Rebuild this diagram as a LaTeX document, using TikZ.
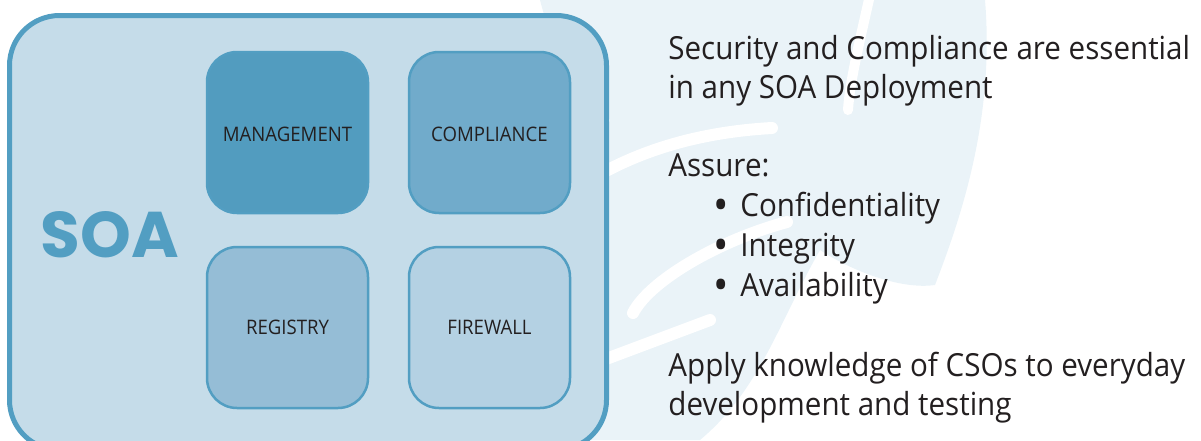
\documentclass[tikz,border=0pt]{standalone}
\usepackage{fontspec}
\setmainfont{Open Sans}[FakeStretch=0.93]
\newfontfamily\soafont{Poppins}
\usetikzlibrary{positioning}

\definecolor{soaline}{HTML}{529EC2}
\definecolor{soafill}{HTML}{C5DCE9}
\definecolor{mgmtfill}{HTML}{529CBF}
\definecolor{complfill}{HTML}{71ABCB}
\definecolor{regfill}{HTML}{95BDD6}
\definecolor{fwfill}{HTML}{B4D1E3}
\definecolor{wmark}{HTML}{EAF3F8}
\definecolor{ink}{HTML}{231F20}

\newcommand\soabullet{\llap{{\fontsize{22}{0}\selectfont\raisebox{-0.09em}{\textbullet}}\hspace{6pt}}}
\newcommand\lowered[1]{\raisebox{-1pt}[\height][0pt]{#1}}

\begin{document}
\begin{tikzpicture}[x=0.5pt,y=-0.5pt,
    tile/.style={draw=soaline, line width=1.25pt, rounded corners=15pt,
        minimum width=80.5pt, minimum height=80.5pt, inner sep=0pt,
        font=\fontsize{10}{12}\selectfont, text=ink},
    body/.style={anchor=base west, inner sep=0pt, text=ink, align=left,
        font=\fontsize{15.9}{19.4}\selectfont}]

    \useasboundingbox (0,0) rectangle (1201,440);
    \clip (0,0) rectangle (1201,440);

    % faint logo behind the text
    \fill[wmark] (540,0) -- (985,0) .. controls (995,120) and (960,220) .. (935,285)
        .. controls (900,290) and (850,270) .. (820,250)
        .. controls (780,320) and (760,390) .. (700,440) -- (580,440)
        .. controls (560,300) and (580,200) .. (610,120)
        .. controls (570,80) and (550,40) .. (540,0) -- cycle;
    \draw[white, line width=5pt, line cap=round] (870,-5) .. controls (860,40) and (850,80) .. (848,110);
    \draw[white, line width=6pt, line cap=round] (772,128) .. controls (700,132) and (640,150) .. (590,180);
    \draw[white, line width=6pt, line cap=round] (787,222) .. controls (720,240) and (650,280) .. (633,313);
    \draw[white, line width=6pt, line cap=round] (710,320) .. controls (670,335) and (630,350) .. (590,365);

    % the SOA panel
    \node[draw=soaline, fill=soafill, line width=2.5pt, rounded corners=25pt,
        minimum width=298.5pt, minimum height=217.25pt] (soabox) at (308,232.75) {};
    \node[text=soaline, font=\soafont\bfseries\fontsize{32.3}{34}\selectfont, inner sep=0pt] (soa) at (109.75,234.5) {SOA};

    \node[tile, fill=mgmtfill]  (mgmt)  at (287.5,132.5) {\lowered{MANAGEMENT}};
    \node[tile, fill=complfill] (compl) at (489.5,132.5) {\lowered{COMPLIANCE}};
    \node[tile, fill=regfill]   (reg)   at (287.5,327.5) {REGISTRY};
    \node[tile, fill=fwfill]    (fw)    at (489.5,327.5) {FIREWALL};

    % notes on the right (base = last line)
    \node[body] (intro)  at (668,98.3)  {Security and Compliance are essential\\in any SOA Deployment};
    \node[body] (assure) at (668,176.7) {Assure:};
    \node[body] (conf)   at (740,216.7) {\soabullet Confidentiality};
    \node[body] (integ)  at (740,256.7) {\soabullet Integrity};
    \node[body] (avail)  at (740,296.7) {\soabullet Availability};
    \node[body] (apply)  at (668,415)   {Apply knowledge of CSOs to everyday\\development and testing};
\end{tikzpicture}
\end{document}
